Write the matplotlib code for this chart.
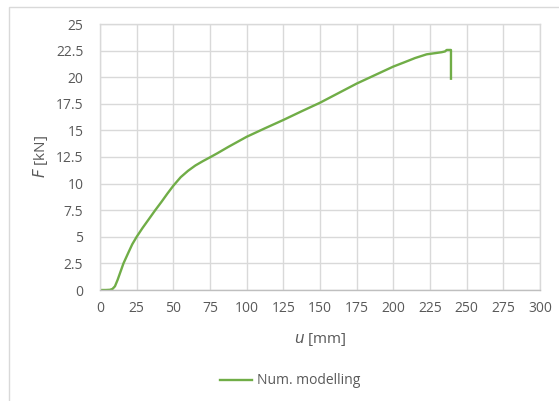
import matplotlib
matplotlib.use("Agg")
import matplotlib.pyplot as plt
from matplotlib.patches import Rectangle

# Load-displacement response from the numerical model
u_mm = [0, 4, 6.8, 8.5, 10.2, 12, 13.6, 16, 19.3, 22, 25, 29, 33, 37.5, 42, 46, 50, 55, 60, 65,
        70, 75, 80, 87.5, 100, 112.5, 125, 137.5, 150, 162.5, 175, 187.5, 200, 207.5, 214.8,
        222.7, 229, 233, 235.2, 236.4, 239.3, 239.3]
F_kN = [0, 0, 0.02, 0.1, 0.35, 0.95, 1.57, 2.5, 3.5, 4.3, 5.0, 5.83, 6.6, 7.47, 8.3, 9.07, 9.8, 10.6, 11.2, 11.7,
        12.1, 12.47, 12.85, 13.45, 14.4, 15.2, 15.98, 16.8, 17.6, 18.5, 19.4, 20.2, 21.0, 21.4, 21.8,
        22.15, 22.27, 22.35, 22.42, 22.56, 22.56, 19.86]

x_ticks = list(range(0, 301, 25))
y_ticks = [0, 2.5, 5, 7.5, 10, 12.5, 15, 17.5, 20, 22.5, 25]
y_tick_labels = ["0", "2.5", "5", "7.5", "10", "12.5", "15", "17.5", "20", "22.5", "25"]

plt.rcParams['font.family'] = ['Open Sans', 'DejaVu Sans']
txt = '#595959'
grid_c = '#d9d9d9'

fig = plt.figure(figsize=(5.59, 4.01), dpi=100)
fig.patches.append(Rectangle((9 / 559, -0.01), 1.0, 1 - 7 / 401 + 0.01, transform=fig.transFigure,
                             fill=False, edgecolor=grid_c, linewidth=1.0))

ax = fig.add_axes([100 / 559, 1 - 290 / 401, 440 / 559, 266 / 401])
line, = ax.plot(u_mm, F_kN, color='#70ad47', linewidth=1.7, label='Num. modelling',
                solid_joinstyle='round')

ax.set_xlim(0, 300)
ax.set_ylim(0, 25)
ax.set_xticks(x_ticks)
ax.set_xticklabels([str(v) for v in x_ticks])
ax.set_yticks(y_ticks)
ax.set_yticklabels(y_tick_labels)
ax.grid(True, color=grid_c, linewidth=1.0)
ax.set_axisbelow(True)
for s in ax.spines.values():
    s.set_color(grid_c)
    s.set_linewidth(1.0)
ax.spines['bottom'].set_color('#bfbfbf')
ax.tick_params(axis='both', length=0, labelsize=10, colors=txt)
ax.tick_params(axis='x', pad=8)
ax.tick_params(axis='y', pad=12)

ax.set_xlabel(r'$\it{u}$ [mm]', fontsize=11, color=txt, labelpad=11)
ax.set_ylabel(r'$\it{F}$ [kN]', fontsize=11, color=txt, labelpad=4)

fig.legend(handles=[line], loc='center', bbox_to_anchor=(290 / 559, 1 - 381 / 401),
           frameon=False, fontsize=10, labelcolor=txt, handlelength=2.3, handletextpad=0.4)

fig.savefig('out.png', dpi=100)
